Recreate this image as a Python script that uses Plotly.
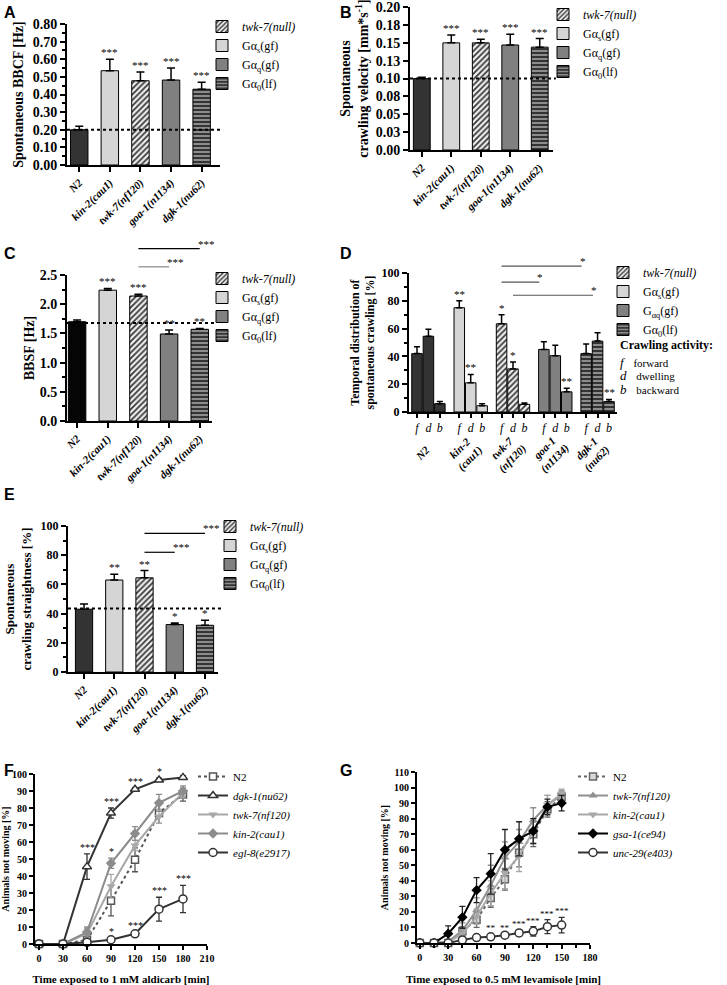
import plotly.graph_objects as go

W, H = 727, 985
SERIF = "Liberation Serif, Times New Roman, serif"
SANS = "Liberation Sans, Arial, sans-serif"

# ---------------- data ----------------
strains = ["N2", "kin-2(cau1)", "twk-7(nf120)", "goa-1(n1134)", "dgk-1(nu62)"]

# A: spontaneous body bend crawling frequency
bbcf_mean = [0.200, 0.535, 0.478, 0.482, 0.430]
bbcf_sem = [0.020, 0.065, 0.050, 0.068, 0.040]
bbcf_stars = ["", "***", "***", "***", "***"]
bbcf_ref = 0.20

# B: crawling velocity
vel_mean = [0.100, 0.150, 0.150, 0.147, 0.144]
vel_sem = [0.002, 0.011, 0.005, 0.015, 0.012]
vel_stars = ["", "***", "***", "***", "***"]
vel_ref = 0.10
vel_tickvals = [0.0, 0.025, 0.05, 0.075, 0.10, 0.125, 0.15, 0.175, 0.20]
vel_ticktext = ["0.00", "0.03", "0.05", "0.08", "0.10", "0.13", "0.15", "0.18", "0.20"]

# C: BBSF
bbsf_mean = [1.70, 2.24, 2.14, 1.49, 1.57]
bbsf_sem = [0.03, 0.03, 0.03, 0.07, 0.015]
bbsf_stars = ["", "***", "***", "**", "**"]
bbsf_ref = 1.68
bbsf_brackets = [(2, 4, 2.95, "***"), (2, 3, 2.64, "***")]

# D: temporal distribution (f, d, b)
activity = ["f", "d", "b"]
activity_words = ["forward", "dwelling", "backward"]
group_labels = ["N2", "kin-2<br>(cau1)", "twk-7<br>(nf120)", "goa-1<br>(n1134)", "dgk-1<br>(nu62)"]
dist_n2 = [42.0, 54.5, 6.0]
dist_n2_sem = [5.0, 5.0, 1.5]
dist_n2_stars = ["", "", ""]
dist_kin2 = [75.0, 21.0, 4.5]
dist_kin2_sem = [5.0, 6.0, 1.5]
dist_kin2_stars = ["**", "**", ""]
dist_twk7 = [63.5, 31.0, 5.5]
dist_twk7_sem = [6.5, 5.0, 1.0]
dist_twk7_stars = ["*", "*", ""]
dist_goa1 = [45.0, 40.5, 14.5]
dist_goa1_sem = [5.5, 7.5, 2.5]
dist_goa1_stars = ["", "", "**"]
dist_dgk1 = [42.0, 51.0, 7.5]
dist_dgk1_sem = [7.0, 6.0, 1.5]
dist_dgk1_stars = ["", "", "**"]
# (group, bar) -> (group, bar), y level, label
dist_brackets = [((2, 0), (4, 0), 105.0, "*"), ((2, 0), (3, 0), 93.5, "*"), ((2, 1), (4, 1), 84.0, "*")]

# E: crawling straightness
straight_mean = [43.0, 63.0, 64.5, 32.5, 32.0]
straight_sem = [3.5, 4.0, 5.0, 1.0, 3.5]
straight_stars = ["", "**", "**", "*", "*"]
straight_ref = 43.5
straight_brackets = [(2, 4, 95.0, "***"), (2, 3, 82.0, "***")]

# F: aldicarb
ald_time = [0, 30, 60, 90, 120, 150, 180]
ald_n2 = [0, 0, 2.5, 25.5, 49.5, 77, 88]
ald_n2_sem = [0, 0, 2, 9, 7, 6, 4]
ald_dgk1 = [0, 0, 45.5, 77, 91, 96.5, 98]
ald_dgk1_sem = [0, 0, 7.5, 3, 1, 1, 1]
ald_dgk1_stars = ["", "", "***", "***", "***", "*", ""]
ald_twk7 = [0, 0, 6, 34, 58, 75, 89]
ald_twk7_sem = [0, 0, 3, 7, 3, 4, 3]
ald_kin2 = [0, 0, 7, 47.5, 65, 83, 90]
ald_kin2_sem = [0, 0, 3, 3, 4, 5, 3]
ald_kin2_stars = ["", "", "", "*", "", "", ""]
ald_egl8 = [0, 0, 1, 2.5, 6, 20.5, 26.5]
ald_egl8_sem = [0, 0, 0.5, 1, 1, 7, 8]
ald_egl8_stars = ["", "", "", "*", "***", "***", "***"]

# G: levamisole
lev_time = [0, 15, 30, 45, 60, 75, 90, 105, 120, 135, 150]
lev_n2 = [0, 0, 0, 7.5, 15, 29, 41, 58, 70, 86, 94]
lev_n2_sem = [0, 0, 0, 3, 5, 6, 7, 9, 8, 5, 3]
lev_twk7 = [0, 0, 1, 8, 21, 37, 55, 65, 79, 89, 95]
lev_twk7_sem = [0, 0, 1, 5, 8, 13, 10, 8, 8, 6, 3]
lev_kin2 = [0, 0, 0.5, 6, 17, 32, 45, 56, 72, 89, 96]
lev_kin2_sem = [0, 0, 1, 3, 5, 8, 10, 10, 8, 6, 3]
lev_gsa1 = [0, 0, 6, 16.5, 34, 44.5, 60, 67, 72, 87.5, 90]
lev_gsa1_sem = [0, 0, 5, 7, 8, 13, 13, 11, 8, 5, 5]
lev_unc29 = [0, 0, 0, 2, 3.5, 4, 5, 6.5, 7.5, 10.5, 11.5]
lev_unc29_sem = [0, 0, 0, 0.5, 1.5, 1.5, 1, 2, 3, 4.5, 5]
lev_unc29_stars = ["", "", "", "", "", "**", "**", "***", "***", "***", "***"]

# ---------------- layout geometry (pixels) ----------------
panels = {
    1: dict(xpx=(67, 220), ypx=(24, 165), xr=(-0.4, 4.6), yr=(0, 0.8)),
    2: dict(xpx=(410, 553), ypx=(7, 150), xr=(-0.4, 4.45), yr=(0, 0.2002)),
    3: dict(xpx=(67, 212), ypx=(275, 421), xr=(-0.33, 4.4), yr=(0, 2.5)),
    4: dict(xpx=(409, 617), ypx=(273, 412), xr=(-0.7, 17.5), yr=(0, 100)),
    5: dict(xpx=(68, 218), ypx=(526, 672), xr=(-0.53, 4.43), yr=(0, 100)),
    6: dict(xpx=(35, 207), ypx=(774, 944), xr=(-5, 210), yr=(0, 100)),
    7: dict(xpx=(417, 590), ypx=(772, 943), xr=(-3, 180), yr=(0, 110)),
}


def xdom(p):
    a, b = panels[p]["xpx"]
    return [a / W, b / W]


def ydom(p):
    t, b = panels[p]["ypx"]
    return [1 - b / H, 1 - t / H]


def px_x(p, v):
    a, b = panels[p]["xpx"]
    r0, r1 = panels[p]["xr"]
    return (a + (v - r0) / (r1 - r0) * (b - a)) / W


def px_y(p, v):
    t, b = panels[p]["ypx"]
    r0, r1 = panels[p]["yr"]
    return 1 - (b - (v - r0) / (r1 - r0) * (b - t)) / H


def sfx(p):
    return "" if p == 1 else str(p)


# bar styles per strain
bar_style = {
    "N2": dict(color="#333333"),
    "kin-2(cau1)": dict(color="#d5d5d5"),
    "twk-7(nf120)": dict(color="#eeeeee", pattern=dict(shape="/", fgcolor="#333333", bgcolor="#eeeeee", size=4, solidity=0.42)),
    "goa-1(n1134)": dict(color="#808080"),
    "dgk-1(nu62)": dict(color="#8c8c8c", pattern=dict(shape="-", fgcolor="#2a2a2a", bgcolor="#8c8c8c", size=4, solidity=0.45)),
}
legend_name = {
    "N2": None,
    "kin-2(cau1)": "Gα<sub>s</sub>(gf)",
    "twk-7(nf120)": "<i>twk-7(null)</i>",
    "goa-1(n1134)": "Gα<sub>q</sub>(gf)",
    "dgk-1(nu62)": "Gα<sub>0</sub>(lf)",
}
legend_rank = {"N2": 0, "twk-7(nf120)": 1, "kin-2(cau1)": 2, "goa-1(n1134)": 3, "dgk-1(nu62)": 4}

fig = go.Figure()
annotations = []
shapes = []


def star_ann(p, x, y, text, size=11, color="black"):
    if text:
        annotations.append(dict(xref="x" + sfx(p), yref="y" + sfx(p), x=x, y=y, text=text,
                                showarrow=False, yanchor="bottom", xanchor="center", yshift=-1,
                                font=dict(family=SERIF, size=size, color=color)))


def bar_panel(p, means, sems, stars, ref, n2_color="#333333"):
    for i, s in enumerate(strains):
        st = dict(bar_style[s])
        if s == "N2":
            st["color"] = n2_color
        mk = dict(color=st["color"], line=dict(color="black", width=1))
        if "pattern" in st:
            mk["pattern"] = st["pattern"]
        nm = legend_name[s]
        fig.add_trace(go.Bar(
            x=[i], y=[means[i]], width=0.57, marker=mk,
            error_y=dict(type="data", symmetric=False, array=[sems[i]], arrayminus=[0],
                         color="black", thickness=1.5, width=4),
            name=nm if nm else s, showlegend=nm is not None,
            legend="legend" + sfx(p), legendrank=legend_rank[s],
            xaxis="x" + sfx(p), yaxis="y" + sfx(p)))
        star_ann(p, i, means[i] + sems[i], stars[i])
    if ref is not None:
        shapes.append(dict(type="line", xref="x" + sfx(p) + " domain", yref="y" + sfx(p),
                           x0=0, x1=1.02, y0=ref, y1=ref,
                           line=dict(color="black", width=2, dash="dot")))


def bracket(p, xa, xb, yv, text, color="black"):
    shapes.append(dict(type="line", xref="paper", yref="paper",
                       x0=px_x(p, xa), x1=px_x(p, xb), y0=px_y(p, yv), y1=px_y(p, yv),
                       line=dict(color=color, width=1.2)))
    annotations.append(dict(xref="paper", yref="paper", x=px_x(p, xb), y=px_y(p, yv), text=text,
                            showarrow=False, xanchor="left", yanchor="bottom", xshift=-4, yshift=-3,
                            font=dict(family=SERIF, size=11, color="black")))


bar_panel(1, bbcf_mean, bbcf_sem, bbcf_stars, bbcf_ref)
bar_panel(2, vel_mean, vel_sem, vel_stars, vel_ref)
bar_panel(3, bbsf_mean, bbsf_sem, bbsf_stars, bbsf_ref, n2_color="#050505")
bar_panel(5, straight_mean, straight_sem, straight_stars, straight_ref)

bracket(3, bbsf_brackets[0][0], bbsf_brackets[0][1], bbsf_brackets[0][2], bbsf_brackets[0][3], "black")
bracket(3, bbsf_brackets[1][0], bbsf_brackets[1][1], bbsf_brackets[1][2], bbsf_brackets[1][3], "#888888")
for a, b, yv, t in straight_brackets:
    bracket(5, a, b, yv, t, "black")

# D grouped bars
GROUP_STEP = 3.7
dist_sets = [
    ("N2", dist_n2, dist_n2_sem, dist_n2_stars),
    ("kin-2(cau1)", dist_kin2, dist_kin2_sem, dist_kin2_stars),
    ("twk-7(nf120)", dist_twk7, dist_twk7_sem, dist_twk7_stars),
    ("goa-1(n1134)", dist_goa1, dist_goa1_sem, dist_goa1_stars),
    ("dgk-1(nu62)", dist_dgk1, dist_dgk1_sem, dist_dgk1_stars),
]
d_tickvals, d_ticktext = [], []
for g, (s, vals, sems, stars) in enumerate(dist_sets):
    xs = [g * GROUP_STEP + k for k in range(len(activity))]
    st = bar_style[s]
    mk = dict(color=st["color"], line=dict(color="black", width=1))
    if "pattern" in st:
        mk["pattern"] = st["pattern"]
    nm = legend_name[s]
    if s == "goa-1(n1134)":
        nm = "G<sub>αq</sub>(gf)"
    fig.add_trace(go.Bar(
        x=xs, y=vals, width=0.92, marker=mk,
        error_y=dict(type="data", symmetric=False, array=sems, arrayminus=[0] * 3,
                     color="black", thickness=1.5, width=3),
        name=nm if nm else s, showlegend=nm is not None,
        legend="legend4", legendrank=legend_rank[s], xaxis="x4", yaxis="y4"))
    for k in range(3):
        star_ann(4, xs[k], vals[k] + sems[k], stars[k])
    d_tickvals += xs
    d_ticktext += ["<i>%s</i>" % a for a in activity]
    annotations.append(dict(xref="x4", yref="paper", x=g * GROUP_STEP + 1, y=1 - 453 / H,
                            text="<b><i>%s</i></b>" % group_labels[g], textangle=-45,
                            showarrow=False, xanchor="center", yanchor="middle", xshift=-6,
                            font=dict(family=SERIF, size=11, color="black")))
for (ga, ba), (gb, bb), yv, t in dist_brackets:
    bracket(4, ga * GROUP_STEP + ba, gb * GROUP_STEP + bb - 0.4, yv, t, "#555555")

# F: aldicarb curves
f_series = [
    ("N2", ald_n2, ald_n2_sem, dict(symbol="square", color="white", size=7, line=dict(color="#555555", width=1.5)), dict(color="#555555", width=2, dash="dot"), "#555555"),
    ("<i>dgk-1(nu62)</i>", ald_dgk1, ald_dgk1_sem, dict(symbol="triangle-up", color="white", size=8, line=dict(color="#333333", width=1.5)), dict(color="#333333", width=2), "#333333"),
    ("<i>twk-7(nf120)</i>", ald_twk7, ald_twk7_sem, dict(symbol="triangle-down", color="#a8a8a8", size=8), dict(color="#a8a8a8", width=2), "#a8a8a8"),
    ("<i>kin-2(cau1)</i>", ald_kin2, ald_kin2_sem, dict(symbol="diamond", color="#8c8c8c", size=8), dict(color="#8c8c8c", width=2), "#8c8c8c"),
    ("<i>egl-8(e2917)</i>", ald_egl8, ald_egl8_sem, dict(symbol="circle", color="white", size=8, line=dict(color="#333333", width=1.5)), dict(color="#333333", width=2), "#333333"),
]
for nm, ys, es, mk, ln, ec in f_series:
    fig.add_trace(go.Scatter(x=ald_time, y=ys, mode="lines+markers", name=nm, marker=mk, line=ln,
                             error_y=dict(type="data", array=es, color=ec, thickness=1.3, width=3),
                             cliponaxis=False, legend="legend6", xaxis="x6", yaxis="y6"))
for ys, es, stars in [(ald_dgk1, ald_dgk1_sem, ald_dgk1_stars), (ald_kin2, ald_kin2_sem, ald_kin2_stars),
                      (ald_egl8, ald_egl8_sem, ald_egl8_stars)]:
    for t, v, e, s in zip(ald_time, ys, es, stars):
        star_ann(6, t, v + e, s, size=10)

# G: levamisole curves
g_series = [
    ("N2", lev_n2, lev_n2_sem, dict(symbol="square", color="#d8d8d8", size=7, line=dict(color="#666666", width=1.5)), dict(color="#666666", width=2, dash="dot"), "#666666"),
    ("<i>twk-7(nf120)</i>", lev_twk7, lev_twk7_sem, dict(symbol="triangle-up", color="#909090", size=8), dict(color="#909090", width=2), "#909090"),
    ("<i>kin-2(cau1)</i>", lev_kin2, lev_kin2_sem, dict(symbol="triangle-down", color="#a8a8a8", size=8), dict(color="#a8a8a8", width=2), "#a8a8a8"),
    ("<i>gsa-1(ce94)</i>", lev_gsa1, lev_gsa1_sem, dict(symbol="diamond", color="black", size=8), dict(color="black", width=2), "#222222"),
    ("<i>unc-29(e403)</i>", lev_unc29, lev_unc29_sem, dict(symbol="circle", color="white", size=8, line=dict(color="#333333", width=1.5)), dict(color="#333333", width=2), "#333333"),
]
for nm, ys, es, mk, ln, ec in g_series:
    fig.add_trace(go.Scatter(x=lev_time, y=ys, mode="lines+markers", name=nm, marker=mk, line=ln,
                             error_y=dict(type="data", array=es, color=ec, thickness=1.3, width=3),
                             cliponaxis=False, legend="legend7", xaxis="x7", yaxis="y7"))
for t, v, e, s in zip(lev_time, lev_unc29, lev_unc29_sem, lev_unc29_stars):
    star_ann(7, t, v + e, s, size=9)


# ---------------- axes ----------------
def axis_common(size):
    return dict(showline=True, linecolor="black", linewidth=2, ticks="outside", ticklen=5, tickwidth=1.5,
                tickcolor="black", showgrid=False, zeroline=False, automargin=False,
                tickfont=dict(family=SERIF, size=size, color="black", weight="bold"))


layout_axes = {}
bar_ticktext = ["<i>%s</i>" % s for s in strains]
for p in (1, 2, 3, 5):
    layout_axes["xaxis" + sfx(p)] = dict(axis_common(11), domain=xdom(p), range=list(panels[p]["xr"]),
                                         anchor="y" + sfx(p), tickvals=list(range(5)), ticktext=bar_ticktext,
                                         tickangle=-45)


def tfont(s):
    return dict(family=SERIF, size=s, color="black", weight="bold")


layout_axes["yaxis"] = dict(axis_common(14), domain=ydom(1), range=list(panels[1]["yr"]), anchor="x", dtick=0.1, tickformat=".2f",
                            minor=dict(ticks="outside", ticklen=3, dtick=0.05, tickcolor="black"),
                            title=dict(text="Spontaneous BBCF [Hz]", font=tfont(14), standoff=6))
layout_axes["yaxis2"] = dict(axis_common(14), domain=ydom(2), range=list(panels[2]["yr"]), anchor="x2",
                             tickvals=vel_tickvals, ticktext=vel_ticktext,
                             title=dict(text="Spontaneous<br>crawling velocity [mm*s<sup>-1</sup>]", font=tfont(14), standoff=4))
layout_axes["yaxis3"] = dict(axis_common(14), domain=ydom(3), range=list(panels[3]["yr"]), anchor="x3", dtick=0.5, tickformat=".1f",
                             minor=dict(ticks="outside", ticklen=3, dtick=0.25, tickcolor="black"),
                             title=dict(text="BBSF [Hz]", font=tfont(14), standoff=2))
layout_axes["xaxis4"] = dict(axis_common(12), domain=xdom(4), range=list(panels[4]["xr"]), anchor="y4",
                             tickvals=d_tickvals, ticktext=d_ticktext, tickangle=0, ticklen=4)
layout_axes["xaxis4"]["tickfont"] = dict(family=SERIF, size=12, color="black")
layout_axes["yaxis4"] = dict(axis_common(12), domain=ydom(4), range=list(panels[4]["yr"]), anchor="x4", dtick=20,
                             minor=dict(ticks="outside", ticklen=3, dtick=10, tickcolor="black"),
                             title=dict(text="Temporal distribution of<br>spontaneous crawling [%]", font=tfont(12), standoff=4))
layout_axes["yaxis5"] = dict(axis_common(12), domain=ydom(5), range=list(panels[5]["yr"]), anchor="x5", dtick=20,
                             minor=dict(ticks="outside", ticklen=3, dtick=10, tickcolor="black"),
                             title=dict(text="Spontaneous<br>crawling straightness [%]", font=tfont(13), standoff=6))
layout_axes["xaxis6"] = dict(axis_common(10), domain=xdom(6), range=list(panels[6]["xr"]), anchor="y6", dtick=30, tick0=0,
                             ticklen=4,
                             title=dict(text="Time exposed to 1 mM aldicarb [min]", font=tfont(11), standoff=16))
layout_axes["yaxis6"] = dict(axis_common(10), domain=ydom(6), range=list(panels[6]["yr"]), anchor="x6", dtick=10, ticklen=4,
                             title=dict(text="Animals not moving [%]", font=tfont(10), standoff=4))
layout_axes["xaxis7"] = dict(axis_common(10), domain=xdom(7), range=list(panels[7]["xr"]), anchor="y7", dtick=30, tick0=0,
                             ticklen=4, minor=dict(ticks="outside", ticklen=3, dtick=15, tickcolor="black"),
                             title=dict(text="Time exposed to 0.5 mM levamisole [min]", font=tfont(11), standoff=16))
layout_axes["yaxis7"] = dict(axis_common(10), domain=ydom(7), range=list(panels[7]["yr"]), anchor="x7", dtick=10, ticklen=4,
                             title=dict(text="Animals not moving [%]", font=tfont(10), standoff=4))


# ---------------- legends ----------------
def leg(text_x, top, size=12):
    return dict(x=(text_x - 40) / W, y=1 - top / H, xanchor="left", yanchor="top",
                bgcolor="rgba(0,0,0,0)", font=dict(family=SERIF, size=size, color="black"),
                tracegroupgap=0, itemclick=False)


legends = dict(
    legend=leg(242, 12),
    legend2=leg(583, 0),
    legend3=leg(242, 264),
    legend4=leg(643, 258),
    legend5=leg(250, 512),
    legend6=leg(233, 762, 11),
    legend7=leg(613, 762, 11),
)

# panel letters
for letter, x, y in [("A", 2, 2), ("B", 338, 2), ("C", 2, 243), ("D", 338, 243), ("E", 2, 484), ("F", 2, 760), ("G", 338, 760)]:
    annotations.append(dict(xref="paper", yref="paper", x=x / W, y=1 - y / H, text="<b>%s</b>" % letter,
                            showarrow=False, xanchor="left", yanchor="top",
                            font=dict(family=SANS, size=16, color="black")))

# crawling activity key
annotations.append(dict(xref="paper", yref="paper", x=618 / W, y=1 - 345 / H, text="<b>Crawling activity:</b>",
                        showarrow=False, xanchor="left", yanchor="middle", font=dict(family=SERIF, size=12, color="black")))
for i, (k, word) in enumerate(zip(activity, activity_words)):
    yy = 1 - (362 + i * 13.5) / H
    annotations.append(dict(xref="paper", yref="paper", x=618 / W, y=yy,
                            text="<i>%s</i>&nbsp;&nbsp;&nbsp;<span style='font-size:11px'>%s</span>" % (k, word),
                            showarrow=False, xanchor="left", yanchor="middle",
                            font=dict(family=SERIF, size=13, color="black")))

fig.update_layout(
    width=W, height=H, template="none",
    margin=dict(l=0, r=0, t=0, b=0),
    paper_bgcolor="white", plot_bgcolor="white",
    barmode="overlay", showlegend=True,
    annotations=annotations, shapes=shapes,
    **layout_axes, **legends,
)

fig.write_html("out.html", config={"displayModeBar": False},
               post_script="document.body.style.margin='0px';")
